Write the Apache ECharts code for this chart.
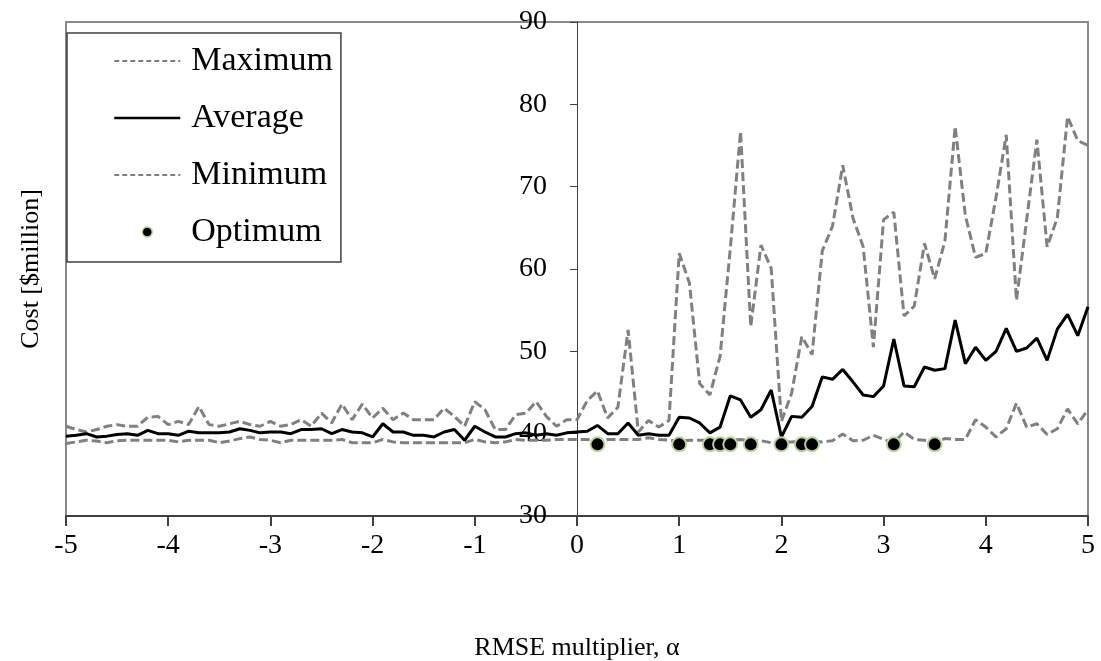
<!DOCTYPE html>
<html>
<head>
<meta charset="utf-8">
<script src="https://cdn.jsdelivr.net/npm/echarts@6/dist/echarts.min.js"></script>
<style>
  html, body { margin: 0; padding: 0; background: #ffffff; }
  #chart { width: 1101px; height: 661px; }
</style>
</head>
<body>
<div id="chart"></div>
<script>
// RMSE multiplier values (x positions of every sample)
const alpha = [
  -5.0, -4.9, -4.8, -4.7, -4.6, -4.5, -4.4, -4.3, -4.2, -4.1,
  -4.0, -3.9, -3.8, -3.7, -3.6, -3.5, -3.4, -3.3, -3.2, -3.1,
  -3.0, -2.9, -2.8, -2.7, -2.6, -2.5, -2.4, -2.3, -2.2, -2.1,
  -2.0, -1.9, -1.8, -1.7, -1.6, -1.5, -1.4, -1.3, -1.2, -1.1,
  -1.0, -0.9, -0.8, -0.7, -0.6, -0.5, -0.4, -0.3, -0.2, -0.1,
   0.0,  0.1,  0.2,  0.3,  0.4,  0.5,  0.6,  0.7,  0.8,  0.9,
   1.0,  1.1,  1.2,  1.3,  1.4,  1.5,  1.6,  1.7,  1.8,  1.9,
   2.0,  2.1,  2.2,  2.3,  2.4,  2.5,  2.6,  2.7,  2.8,  2.9,
   3.0,  3.1,  3.2,  3.3,  3.4,  3.5,  3.6,  3.7,  3.8,  3.9,
   4.0,  4.1,  4.2,  4.3,  4.4,  4.5,  4.6,  4.7,  4.8,  4.9,
   5.0
];

// Cost [$million]
const costMax = [
  40.9, 40.5, 40.2, 40.5, 40.9, 41.1, 40.9, 40.9, 42.0, 42.1,
  41.1, 41.5, 41.1, 43.3, 41.1, 40.9, 41.2, 41.5, 41.1, 40.9,
  41.5, 40.9, 41.1, 41.7, 40.9, 42.5, 41.3, 43.6, 41.7, 43.6,
  41.9, 43.1, 41.7, 42.5, 41.7, 41.7, 41.7, 43.1, 42.1, 40.9,
  43.9, 42.9, 40.5, 40.5, 42.3, 42.5, 43.9, 42.1, 40.9, 41.7,
  41.7, 44.0, 45.2, 41.9, 43.2, 52.6, 40.2, 41.6, 40.8, 41.6,
  61.9, 58.3, 46.1, 44.7, 49.4, 62.5, 76.7, 53.0, 62.9, 60.1,
  41.5, 44.9, 51.8, 49.6, 62.2, 65.2, 72.6, 66.2, 62.7, 50.5,
  66.0, 66.9, 54.3, 55.5, 63.1, 58.8, 63.4, 77.3, 66.5, 61.4,
  61.9, 68.7, 76.3, 56.2, 66.0, 75.7, 62.7, 66.2, 78.5, 75.6,
  75.0
];

const costAvg = [
  39.7, 39.8, 40.0, 39.6, 39.7, 39.9, 40.0, 39.8, 40.4, 40.0,
  40.0, 39.8, 40.3, 40.1, 40.1, 40.1, 40.2, 40.6, 40.4, 40.1,
  40.2, 40.2, 40.0, 40.5, 40.5, 40.6, 40.0, 40.5, 40.2, 40.1,
  39.6, 41.2, 40.2, 40.2, 39.8, 39.8, 39.6, 40.2, 40.5, 39.2,
  40.9, 40.2, 39.6, 39.6, 40.0, 40.1, 39.8, 40.0, 39.8, 40.1,
  40.2, 40.3, 41.0, 40.0, 40.0, 41.3, 39.8, 40.0, 39.8, 39.8,
  42.0, 41.9, 41.3, 40.1, 40.8, 44.6, 44.1, 42.0, 42.9, 45.3,
  39.6, 42.1, 42.0, 43.3, 46.9, 46.6, 47.8, 46.3, 44.7, 44.5,
  45.8, 51.5, 45.8, 45.7, 48.1, 47.7, 47.9, 53.8, 48.5, 50.5,
  48.9, 50.0, 52.8, 50.0, 50.4, 51.6, 48.9, 52.7, 54.5, 51.9,
  55.4
];

const costMin = [
  38.8, 39.0, 39.2, 39.1, 38.9, 39.15, 39.2, 39.2, 39.2, 39.2,
  39.2, 39.0, 39.2, 39.2, 39.2, 38.9, 39.1, 39.4, 39.6, 39.3,
  39.2, 38.9, 39.2, 39.2, 39.2, 39.2, 39.2, 39.3, 38.9, 38.9,
  38.9, 39.3, 39.0, 38.9, 38.9, 38.9, 38.9, 38.9, 38.9, 38.9,
  39.3, 39.0, 38.9, 39.0, 39.3, 39.2, 39.2, 39.2, 39.3, 39.3,
  39.3, 39.3, 39.1, 39.3, 39.3, 39.3, 39.3, 39.5, 39.3, 39.2,
  39.1, 39.2, 39.2, 39.2, 39.2, 39.2, 39.3, 39.1, 39.15, 38.9,
  39.0, 39.0, 39.1, 39.1, 39.0, 39.15, 39.95, 39.15, 39.2, 39.8,
  39.3, 38.9, 40.2, 39.3, 39.2, 38.9, 39.4, 39.3, 39.3, 41.7,
  40.8, 39.6, 40.6, 43.7, 40.8, 41.2, 39.9, 40.6, 43.0, 41.2,
  42.9
];

// Optimum designs
const optAlpha = [0.2, 1.0, 1.3, 1.4, 1.5, 1.7, 2.0, 2.2, 2.3, 3.1, 3.5];
const optCost  = [38.7, 38.7, 38.7, 38.7, 38.7, 38.7, 38.7, 38.7, 38.7, 38.7, 38.7];

// Axis ticks
const xTicks = [-5, -4, -3, -2, -1, 0, 1, 2, 3, 4, 5];
const yTicks = [30, 40, 50, 60, 70, 80, 90];

const FONT = "'Liberation Serif', 'DejaVu Serif', serif";
const pairs = (xs, ys) => xs.map((x, i) => [x, ys[i]]);

const GRID = { left: 66, right: 13, top: 22, bottom: 145 };
const plotWidth = 1101 - GRID.left - GRID.right;

const chart = echarts.init(document.getElementById('chart'), null, { renderer: 'canvas' });

const dashed = { color: '#808080', width: 3, type: [9, 4] };
// line legend entries show only the line sample, no marker
const noMarker = { color: 'rgba(0,0,0,0)', borderWidth: 0, opacity: 0 };

chart.setOption({
  animation: false,
  backgroundColor: '#ffffff',
  grid: Object.assign({
    show: true, borderColor: '#8a8a8a', borderWidth: 2,
    outerBoundsMode: 'none'
  }, GRID),
  legend: {
    orient: 'vertical',
    left: 67, top: 33,
    padding: [10, 8, 12, 46],
    borderColor: '#404040', borderWidth: 1.5,
    backgroundColor: '#ffffff',
    itemWidth: 66, itemHeight: 10, itemGap: 21,
    textStyle: { fontFamily: FONT, fontSize: 34, color: '#000', lineHeight: 36, padding: [0, 0, 0, 6] },
    selectedMode: false,
    data: [
      { name: 'Maximum', itemStyle: noMarker, lineStyle: { color: '#808080', width: 2, type: [5, 3] } },
      { name: 'Average', itemStyle: noMarker, lineStyle: { color: '#000', width: 2.5, type: 'solid' } },
      { name: 'Minimum', itemStyle: noMarker, lineStyle: { color: '#808080', width: 2, type: [5, 3] } },
      { name: 'Optimum', icon: 'circle', itemStyle: { color: '#000', borderColor: '#b9d49a', borderWidth: 1.5 } }
    ]
  },
  xAxis: {
    type: 'value',
    min: xTicks[0], max: xTicks[xTicks.length - 1], interval: 1,
    name: 'RMSE multiplier, α',
    nameLocation: 'middle', nameGap: 119,
    nameTextStyle: { fontFamily: FONT, fontSize: 26, color: '#000' },
    axisLine: { onZero: false, lineStyle: { color: '#404040', width: 2 } },
    axisTick: { show: true, length: 10, inside: false, lineStyle: { color: '#404040', width: 2 } },
    axisLabel: { fontFamily: FONT, fontSize: 28, color: '#000', margin: 16 },
    splitLine: { show: false }
  },
  yAxis: [
    {
      // value axis crossing the x axis at alpha = 0 (middle of the plot)
      type: 'value',
      min: yTicks[0], max: yTicks[yTicks.length - 1], interval: 10,
      position: 'left',
      offset: -plotWidth / 2,
      axisLine: { onZero: false, lineStyle: { color: '#404040', width: 1 } },
      axisTick: { show: true, length: 7, inside: false, lineStyle: { color: '#404040', width: 1 } },
      axisLabel: { inside: false, margin: 30, fontFamily: FONT, fontSize: 28, color: '#000' },
      splitLine: { show: false }
    },
    {
      // carries the axis title at the left edge of the plot
      type: 'value',
      min: yTicks[0], max: yTicks[yTicks.length - 1], interval: 10,
      position: 'left',
      name: 'Cost [$million]',
      nameLocation: 'middle', nameGap: 22,
      nameTextStyle: { fontFamily: FONT, fontSize: 26, color: '#000' },
      axisLine: { show: false, onZero: false },
      axisTick: { show: false },
      axisLabel: { show: false },
      splitLine: { show: false }
    }
  ],
  series: [
    {
      name: 'Maximum', type: 'line', yAxisIndex: 0,
      data: pairs(alpha, costMax), symbol: 'none',
      itemStyle: { color: '#808080' },
      lineStyle: dashed, z: 2
    },
    {
      name: 'Average', type: 'line', yAxisIndex: 0,
      data: pairs(alpha, costAvg), symbol: 'none',
      itemStyle: { color: '#000' },
      lineStyle: { color: '#000', width: 3 }, z: 3
    },
    {
      name: 'Minimum', type: 'line', yAxisIndex: 0,
      data: pairs(alpha, costMin), symbol: 'none',
      itemStyle: { color: '#808080' },
      lineStyle: dashed, z: 2
    },
    {
      name: 'Optimum', type: 'scatter', yAxisIndex: 0,
      data: pairs(optAlpha, optCost), symbol: 'circle', symbolSize: 14,
      itemStyle: { color: '#000', borderColor: '#b9d49a', borderWidth: 2, opacity: 1 },
      z: 4
    }
  ]
});
</script>
</body>
</html>
